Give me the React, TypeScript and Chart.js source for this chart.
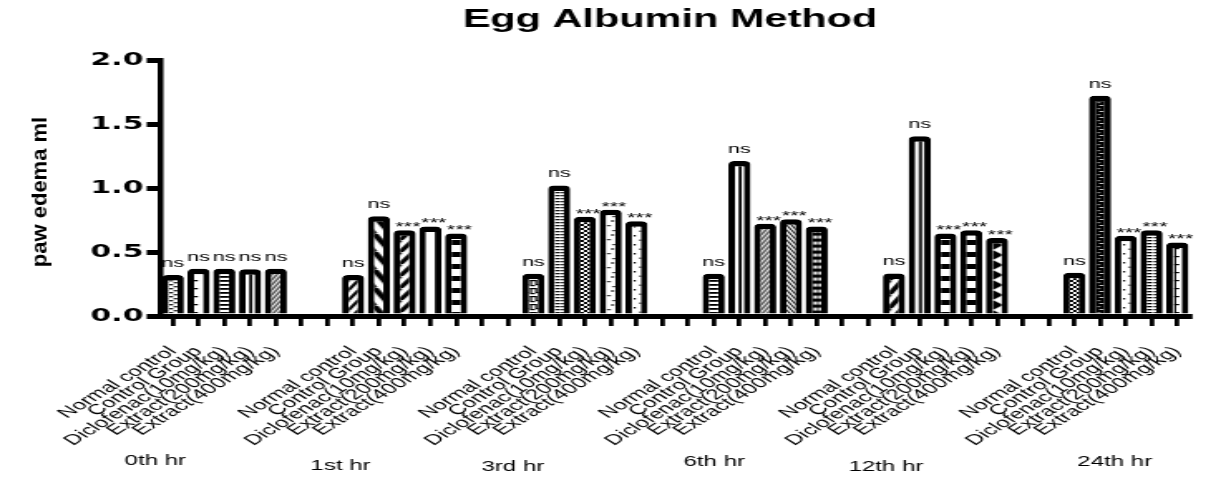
import React, { useEffect, useRef } from 'react';
import { Chart, registerables } from 'chart.js';

Chart.register(...registerables);

// ---------- data ----------
const groups = ['0th hr', '1st hr', '3rd hr', '6th hr', '12th hr', '24th hr'];
const treatments = [
  'Normal control',
  'Control Group',
  'Diclofenac(10mg/kg)',
  'Extract(200mg/kg)',
  'Extract(400mg/kg)',
];
const hr0 = [0.32, 0.37, 0.37, 0.365, 0.37];
const hr1 = [0.32, 0.78, 0.67, 0.7, 0.645];
const hr3 = [0.33, 1.02, 0.775, 0.83, 0.74];
const hr6 = [0.33, 1.21, 0.72, 0.755, 0.7];
const hr12 = [0.333, 1.405, 0.645, 0.67, 0.61];
const hr24 = [0.337, 1.72, 0.627, 0.67, 0.575];
const sigBaseline = ['ns', 'ns', 'ns', 'ns', 'ns'];
const sigLater = ['ns', 'ns', '***', '***', '***'];
const yTickStep = 0.5;
const yMax = 2.0;

const groupValues = [hr0, hr1, hr3, hr6, hr12, hr24];
const groupSig = [sigBaseline, sigLater, sigLater, sigLater, sigLater, sigLater];

// ---------- layout / style ----------
const KX = 1226 / 739; // horizontal stretch of the picture
const CW = 739;
const CH = 477;
const GAP = 2;
const FAM = "'Liberation Sans', Arial, Helvetica, sans-serif";
// group label offset (in slots, from the group centre) and y centre
const groupLabelOffset = [-2.68, -2.49, -2.8, -1.98, -2.31, -0.43];
const groupLabelY = [461, 466, 467, 462, 467, 462];

const patternKeys = [
  ['bricks', 'ruler', 'hlines', 'vline', 'diagF'],
  ['diagN', 'bigB', 'bigF', 'white', 'ladder'],
  ['maze', 'densedash', 'checker', 'sparsedash', 'sparsedots'],
  ['hlines', 'vline', 'diagF', 'diagB', 'grid'],
  ['bigF2', 'vline', 'ladder', 'ladder', 'triangles'],
  ['checker', 'blackdash', 'sparsedots', 'hdense', 'ruler2'],
];

// ---------- slots ----------
const slotLabels: string[] = [];
const slotValues: (number | null)[] = [];
const slotSig: string[] = [];
const slotPattern: string[] = [];
const groupCenterSlot: number[] = [];
groupValues.forEach((vals, g) => {
  groupCenterSlot.push(slotLabels.length + 2);
  vals.forEach((v, i) => {
    slotLabels.push(treatments[i]);
    slotValues.push(v);
    slotSig.push(groupSig[g][i]);
    slotPattern.push(patternKeys[g][i]);
  });
  if (g < groupValues.length - 1) {
    for (let k = 0; k < GAP; k++) {
      slotLabels.push('');
      slotValues.push(null);
      slotSig.push('');
      slotPattern.push('');
    }
  }
});

type Tile = { w: number; h: number; draw: (c: CanvasRenderingContext2D) => void };

const diag = (w: number, h: number, lw: number, forward: boolean): Tile => ({
  w,
  h,
  draw: (c) => {
    c.lineWidth = lw;
    c.beginPath();
    for (const dx of [-w, 0, w]) {
      if (forward) {
        c.moveTo(dx, h);
        c.lineTo(dx + w, 0);
      } else {
        c.moveTo(dx, 0);
        c.lineTo(dx + w, h);
      }
    }
    c.stroke();
  },
});

const tiles: Record<string, Tile> = {
  bricks: { w: 6, h: 4, draw: (c) => { c.fillRect(0.3, 0, 2.4, 1.4); c.fillRect(3.3, 2, 2.4, 1.4); } },
  ruler: { w: 7, h: 8, draw: (c) => { c.fillRect(0, 0, 2.2, 1.3); } },
  hlines: { w: 7, h: 4, draw: (c) => { c.fillRect(0, 0, 7, 1.8); } },
  vline: { w: 7, h: 2, draw: (c) => { c.fillRect(2.2, 0, 1.8, 2); } },
  diagF: diag(3, 5, 1.1, true),
  diagB: diag(3, 5, 1.1, false),
  diagN: diag(6, 10, 2.2, true),
  bigB: diag(10, 18, 4, false),
  bigF: diag(8, 12, 3.2, true),
  bigF2: diag(8, 14, 3.5, true),
  white: { w: 2, h: 2, draw: () => {} },
  ladder: { w: 7, h: 12, draw: (c) => { c.fillRect(0, 0, 7, 5); } },
  maze: {
    w: 7,
    h: 8,
    draw: (c) => {
      c.fillRect(0.5, 0, 1.2, 5);
      c.fillRect(0.5, 0, 4, 1.2);
      c.fillRect(3.6, 0, 1.2, 4);
      c.fillRect(3.6, 4, 3, 1.2);
      c.fillRect(0.5, 5, 3, 1.2);
    },
  },
  densedash: { w: 7, h: 3, draw: (c) => { c.fillRect(0.3, 0, 2.6, 1.3); c.fillRect(3.6, 0, 2.6, 1.3); } },
  checker: { w: 4, h: 4, draw: (c) => { c.fillRect(0, 0, 2, 2); c.fillRect(2, 2, 2, 2); } },
  sparsedash: {
    w: 7,
    h: 14,
    draw: (c) => {
      c.fillRect(0.5, 1, 2, 1.2);
      c.fillRect(3.8, 6, 2, 1.2);
      c.fillRect(3.2, 10, 1.2, 2);
    },
  },
  sparsedots: { w: 7, h: 9, draw: (c) => { c.fillRect(1, 1, 1.2, 1.5); c.fillRect(4.5, 5.5, 1.2, 1.5); } },
  grid: {
    w: 7,
    h: 6,
    draw: (c) => {
      c.fillRect(0, 0, 7, 6);
      c.fillStyle = '#fff';
      c.fillRect(0.6, 1.6, 2.1, 3);
      c.fillRect(3.6, 1.6, 2.1, 3);
    },
  },
  triangles: {
    w: 7,
    h: 10,
    draw: (c) => {
      c.beginPath();
      c.moveTo(0, 0);
      c.lineTo(6.5, 5);
      c.lineTo(0, 10);
      c.closePath();
      c.fill();
    },
  },
  blackdash: {
    w: 7,
    h: 6,
    draw: (c) => {
      c.fillRect(0, 0, 7, 6);
      c.fillStyle = '#fff';
      c.fillRect(1.5, 0, 1, 1.2);
      c.fillRect(2.5, 3, 2, 1);
    },
  },
  hdense: { w: 7, h: 3, draw: (c) => { c.fillRect(0, 0, 3, 1.3); c.fillRect(4, 0, 3, 1.3); } },
  ruler2: { w: 7, h: 8, draw: (c) => { c.fillRect(0.8, 0, 1.1, 8); c.fillRect(0.8, 0, 3, 1.2); } },
};

function makePattern(key: string): CanvasPattern | string {
  const t = tiles[key];
  if (!t) return 'transparent';
  const cv = document.createElement('canvas');
  cv.width = t.w;
  cv.height = t.h;
  const c = cv.getContext('2d')!;
  c.fillStyle = '#fff';
  c.fillRect(0, 0, t.w, t.h);
  c.fillStyle = '#000';
  c.strokeStyle = '#000';
  t.draw(c);
  return c.createPattern(cv, 'repeat')!;
}

const BORDER = { top: 5.5, left: 4, right: 4, bottom: 0 };

export default function App() {
  const ref = useRef<HTMLCanvasElement>(null);

  useEffect(() => {
    const canvas = ref.current!;
    const patterns = slotPattern.map((k) => makePattern(k));

    const alignPatterns = {
      id: 'alignPatterns',
      beforeDatasetsDraw(chart: any) {
        const meta = chart.getDatasetMeta(0);
        meta.data.forEach((el: any, i: number) => {
          const p = patterns[i];
          if (p && typeof p !== 'string' && el && typeof el.x === 'number') {
            const left = el.x - el.width / 2 + BORDER.left;
            p.setTransform(new DOMMatrix([1, 0, 0, 1, left, 0]));
          }
        });
      },
    };

    const annotations = {
      id: 'annotations',
      afterDatasetsDraw(chart: any) {
        const ctx = chart.ctx as CanvasRenderingContext2D;
        const meta = chart.getDatasetMeta(0);
        ctx.save();
        ctx.fillStyle = '#000';
        ctx.textAlign = 'center';
        ctx.textBaseline = 'alphabetic';
        ctx.font = `13px ${FAM}`;
        meta.data.forEach((el: any, i: number) => {
          const s = slotSig[i];
          if (!s || slotValues[i] == null) return;
          if (s === 'ns') ctx.fillText(s, el.x, el.y - 8);
          else ctx.fillText(s, el.x + 2, el.y + 1);
        });
        ctx.restore();
      },
      afterDraw(chart: any) {
        const ctx = chart.ctx as CanvasRenderingContext2D;
        const xs = chart.scales.x;
        const slotW = (chart.chartArea.right - chart.chartArea.left) / slotLabels.length;
        ctx.save();
        ctx.fillStyle = '#000';
        // title
        ctx.textAlign = 'center';
        ctx.textBaseline = 'middle';
        ctx.font = `bold 25px ${FAM}`;
        ctx.fillText('Egg Albumin Method', 670 / KX, 20);
        // group labels
        ctx.font = `14.5px ${FAM}`;
        groups.forEach((g, i) => {
          const x = xs.getPixelForValue(groupCenterSlot[i]) + groupLabelOffset[i] * slotW;
          ctx.fillText(g, x, groupLabelY[i]);
        });
        // y axis title (drawn without horizontal stretch)
        ctx.translate(40 / KX, 192);
        ctx.scale(1 / KX, 1);
        ctx.rotate(-Math.PI / 2);
        ctx.font = `bold 22px ${FAM}`;
        ctx.fillText('paw edema ml', 0, 0);
        ctx.restore();
      },
    };

    const chart = new Chart(canvas, {
      type: 'bar',
      data: {
        labels: slotLabels,
        datasets: [
          {
            data: slotValues as any,
            backgroundColor: patterns as any,
            borderColor: '#000',
            borderWidth: BORDER as any,
            borderRadius: { topLeft: 3.5, topRight: 3.5, bottomLeft: 0, bottomRight: 0 } as any,
            borderSkipped: 'start',
            barPercentage: 0.86,
            categoryPercentage: 1,
          },
        ],
      },
      options: {
        responsive: false,
        animation: false,
        devicePixelRatio: 1,
        layout: { padding: { top: 60, right: 6, left: 0, bottom: 0 } },
        plugins: {
          legend: { display: false },
          tooltip: { enabled: false },
          title: { display: false },
        },
        scales: {
          x: {
            offset: true,
            grid: {
              display: true,
              drawOnChartArea: false,
              drawTicks: true,
              tickLength: 10,
              lineWidth: 2.8,
              color: '#000',
              offset: false,
            },
            border: { display: true, color: '#000', width: 5 },
            ticks: {
              autoSkip: false,
              maxRotation: 45,
              minRotation: 45,
              padding: 17,
              color: '#000',
              font: { family: FAM, size: 14.5 },
            },
            afterFit: (s: any) => {
              s.height = 161;
            },
          },
          y: {
            min: 0,
            max: yMax,
            ticks: {
              stepSize: yTickStep,
              padding: 2,
              color: '#000',
              font: { family: "'DejaVu Sans', sans-serif", size: 18, weight: 'bold' },
              callback: (v: any) => Number(v).toFixed(1),
            },
            grid: { drawOnChartArea: false, drawTicks: true, tickLength: 8, lineWidth: 5, color: '#000' },
            border: { display: true, color: '#000', width: 3.5 },
            afterFit: (s: any) => {
              s.width = 96.4;
            },
          },
        },
      } as any,
      plugins: [alignPatterns, annotations],
    });

    return () => chart.destroy();
  }, []);

  return (
    <div style={{ position: 'absolute', left: 0, top: 0, width: 1226, height: 477, background: '#fff' }}>
      <canvas
        ref={ref}
        width={CW}
        height={CH}
        style={{ display: 'block', width: '1226px', height: '477px' }}
      />
    </div>
  );
}
